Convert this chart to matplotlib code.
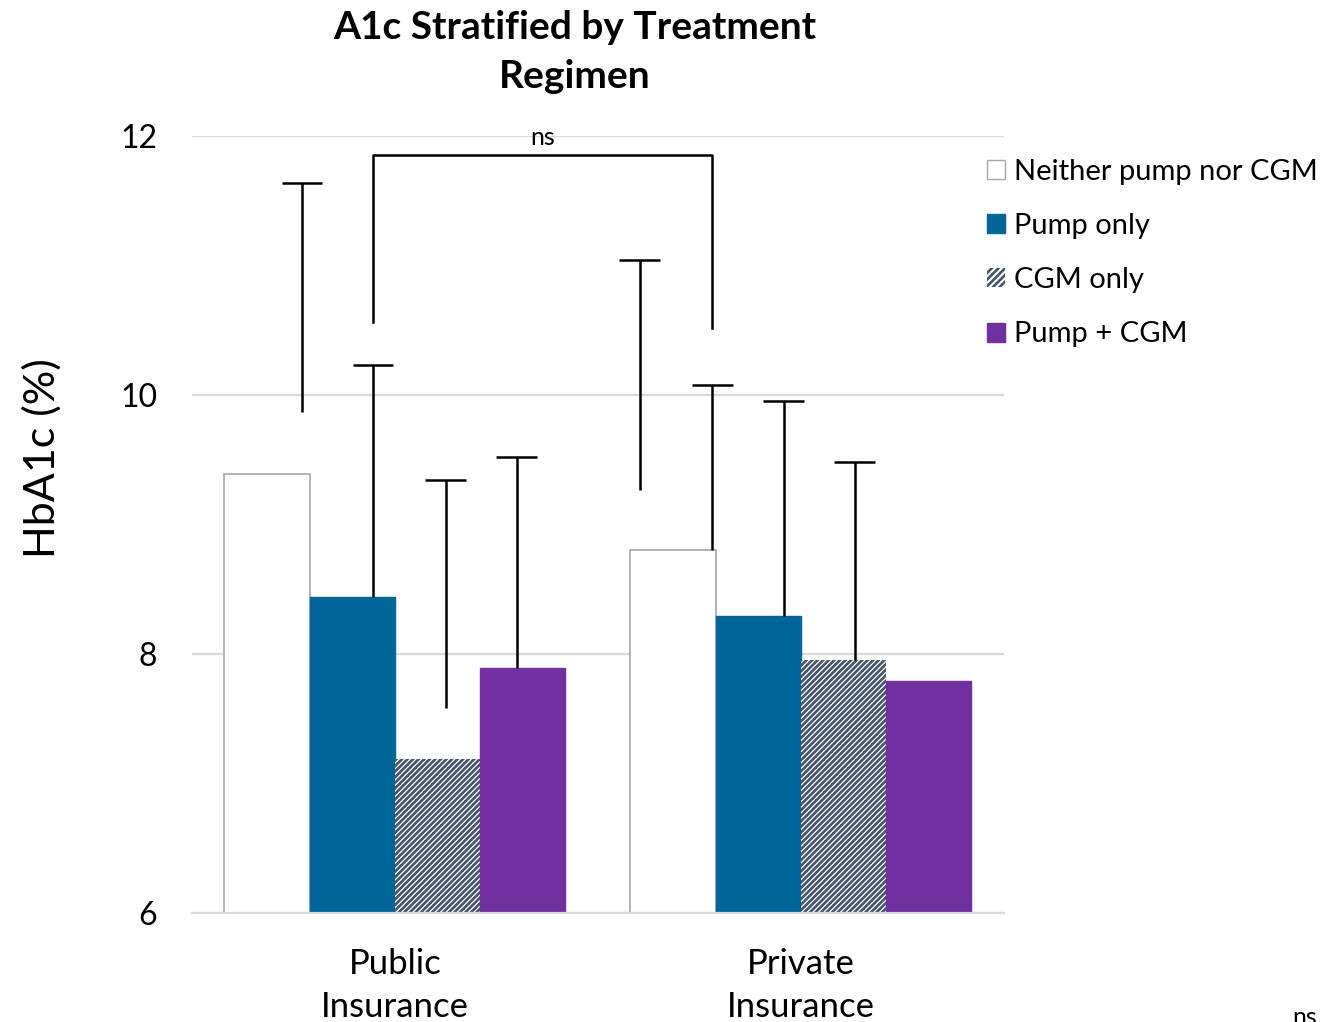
import matplotlib.pyplot as plt
from matplotlib.patches import Patch

plt.rcParams['font.family'] = ['Lato', 'DejaVu Sans']
plt.rcParams['hatch.linewidth'] = 1.9

# data
groups = ['Public\nInsurance', 'Private\nInsurance']
series = ['Neither pump nor CGM', 'Pump only', 'CGM only', 'Pump + CGM']
public_vals = [9.39, 8.44, 7.19, 7.89]
private_vals = [8.80, 8.29, 7.95, 7.79]

# error whiskers: where each line starts, where it ends, and its x offset in the group
public_err_low = [9.87, 8.44, 7.58, 7.89]
public_err_high = [11.64, 10.23, 9.34, 9.52]
public_err_x = [-0.229, -0.054, 0.125, 0.300]
private_err_low = [9.27, 8.80, 8.29, 7.95]
private_err_high = [11.04, 10.08, 9.95, 9.48]
private_err_x = [-0.397, -0.218, -0.043, 0.132]

# bracket between groups
bracket_x = [-0.054, 0.780]
bracket_low = [10.56, 10.52]
bracket_top = 11.85

colors = ['white', '#006699', 'white', '#7030a0']
edges = ['#a6a6a6', '#006699', '#44546a', '#7030a0']
lws = [1.2, 1.0, 0, 1.0]
hatches = [None, None, '//////', None]

fig = plt.figure(figsize=(13.25, 10.22), dpi=100)
ax = fig.add_axes([0.1449, 0.1067, 0.6128, 0.7602])

w = 0.21
for i in range(4):
    xs = [g + (i - 1.5) * w for g in range(2)]
    ax.bar(xs, [public_vals[i], private_vals[i]], width=w, bottom=0,
           color=colors[i], edgecolor=edges[i], hatch=hatches[i],
           linewidth=lws[i], zorder=2)

# error bars (only the upper whisker is drawn)
cap = 0.1
for g, lows, highs, offs in [(0, public_err_low, public_err_high, public_err_x),
                             (1, private_err_low, private_err_high, private_err_x)]:
    for lo, hi, off in zip(lows, highs, offs):
        ax.vlines(g + off, lo, hi, color='black', linewidth=1.8, zorder=3)
        ax.hlines(hi, g + off - cap / 2, g + off + cap / 2, color='black', linewidth=1.8, zorder=3)

# significance bracket
ax.plot([bracket_x[0], bracket_x[0], bracket_x[1], bracket_x[1]],
        [bracket_low[0], bracket_top, bracket_top, bracket_low[1]],
        color='black', linewidth=1.8, zorder=3, clip_on=False)
ax.text(sum(bracket_x) / 2, 11.99, 'ns', ha='center', va='center', fontsize=18, zorder=4)

ax.set_xlim(-0.5, 1.5)
ax.set_ylim(6, 12)
ax.set_yticks([6, 8, 10, 12])
ax.set_xticks([0, 1])
ax.set_xticklabels(groups, fontsize=25, linespacing=1.45)
ax.tick_params(axis='y', labelsize=23, length=0, pad=25)
ax.tick_params(axis='x', length=0, pad=25)
ax.grid(axis='y', color='#d9d9d9', linewidth=1.6, zorder=0)
ax.set_axisbelow(True)
for s in ['top', 'right', 'left']:
    ax.spines[s].set_visible(False)
ax.spines['bottom'].set_color('#d9d9d9')
ax.spines['bottom'].set_linewidth(1.6)

handles = [Patch(facecolor=colors[i], edgecolor=edges[i], hatch='/////' if i == 2 else None,
                 linewidth=1.0 if i != 2 else 0, label=series[i]) for i in range(4)]
ax.legend(handles=handles, loc='upper left', bbox_to_anchor=(0.979, 0.971),
          frameon=False, fontsize=21, handlelength=0.62, handleheight=0.62,
          handletextpad=0.3, labelspacing=0.97, borderpad=0, borderaxespad=0)

fig.text(0.434, 1 - 52 / 1022, 'A1c Stratified by Treatment\nRegimen', ha='center', va='center',
         fontsize=28, fontweight='bold', linespacing=1.5)
fig.text(42 / 1325, 1 - 458 / 1022, 'HbA1c (%)', rotation=90, ha='center', va='center', fontsize=31)
fig.text(1305 / 1325, 0.004, 'ns', ha='center', va='center', fontsize=18)

fig.savefig('out.png', dpi=100)
